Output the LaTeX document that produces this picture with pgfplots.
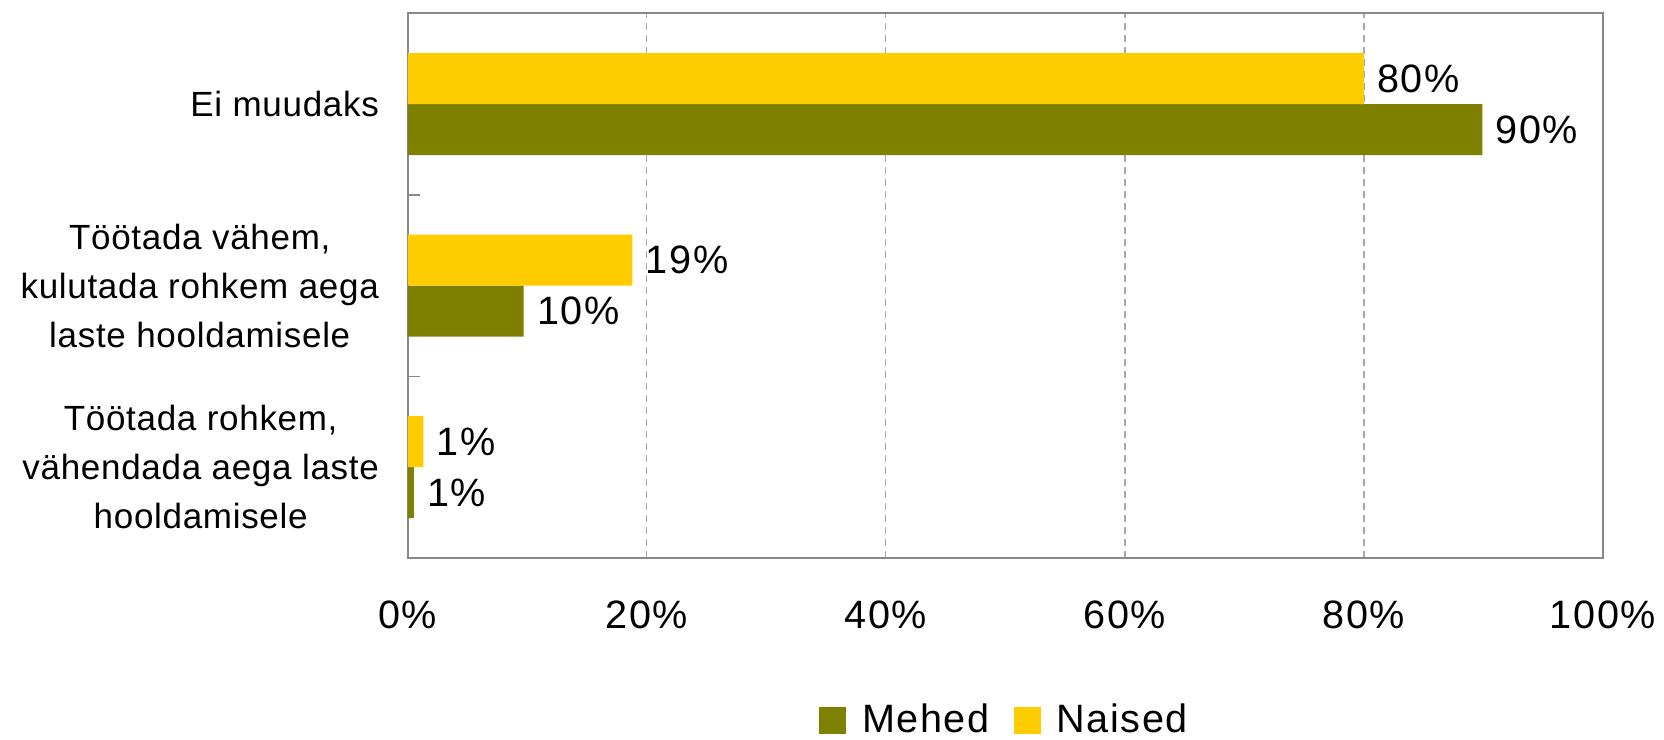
\documentclass[border=0pt]{standalone}
\usepackage{fontspec}
\setmainfont{Liberation Sans}[LetterSpace=4]
\newfontfamily\ylfont{Liberation Sans}[LetterSpace=2]
\usepackage{pgfplots}
\pgfplotsset{compat=1.18}
\definecolor{mehed}{HTML}{808000}
\definecolor{naised}{HTML}{FFCC00}
\definecolor{frame}{HTML}{888888}
\definecolor{gridc}{HTML}{A8A8A8}
\begin{document}
\begin{tikzpicture}
\useasboundingbox (-203.9pt,-90.5pt) rectangle (628.1pt,279pt);
\begin{axis}[
  at={(0,0)}, anchor=south west,
  scale only axis,
  width=597.6pt, height=272.3pt,
  xbar,
  xmin=0, xmax=100,
  ymin=0.5, ymax=3.5,
  bar width=25.5pt,
  axis line style={draw=frame, line width=1pt},
  font=\fontsize{19.8}{24}\selectfont,
  xtick={0,20,40,60,80,100},
  xticklabels={0\%,20\%,40\%,60\%,80\%,100\%},
  xticklabel style={anchor=center, yshift=-28.5pt, inner sep=0pt},
  major x tick style={draw=none},
  xmajorgrids,
  major grid style={draw=gridc, line width=0.6pt, dash pattern=on 3.5pt off 2.5pt},
  ytick={1,2,3},
  yticklabels={{Töötada rohkem,\\vähendada aega laste\\hooldamisele},{Töötada vähem,\\kulutada rohkem aega\\laste hooldamisele},{Ei muudaks}},
  yticklabel style={align=center, anchor=east, inner sep=0pt, xshift=-10pt, font=\ylfont\fontsize{17.5}{24.5}\selectfont},
  major y tick style={draw=none},
  extra y ticks={1.5,2.5},
  extra y tick labels={},
  extra y tick style={major tick length=6pt, tick align=inside, tick pos=left, major y tick style={draw=frame, line width=0.6pt}, ymajorgrids=false},
  point meta=explicit symbolic,
  nodes near coords,
  every node near coord/.append style={anchor=west, inner sep=0pt, xshift=6.5pt, font=\fontsize{19.8}{24}\selectfont, text=black},
  legend columns=2,
  legend style={draw=none, fill=none, at={(0.5,0)}, anchor=center, yshift=-81pt,
    font=\fontsize{19.8}{24}\selectfont,
    /tikz/every odd column/.append style={column sep=6pt},
    /tikz/every even column/.append style={column sep=10pt}},
  legend cell align=left,
]
\addplot[draw=none, fill=mehed, bar shift=-12.75pt,
  legend image code/.code={\fill[mehed] (0pt,-6.75pt) rectangle (13.5pt,6.75pt);}]
  coordinates {(0.5,1) [1\%] (9.7,2) [10\%] (89.9,3) [90\%]};
\addlegendentry{Mehed}
\addplot[draw=none, fill=naised, bar shift=12.75pt,
  legend image code/.code={\fill[naised] (0pt,-6.75pt) rectangle (13.5pt,6.75pt);}]
  coordinates {(1.3,1) [1\%] (18.8,2) [19\%] (80.0,3) [80\%]};
\addlegendentry{Naised}
\end{axis}
\end{tikzpicture}
\end{document}
